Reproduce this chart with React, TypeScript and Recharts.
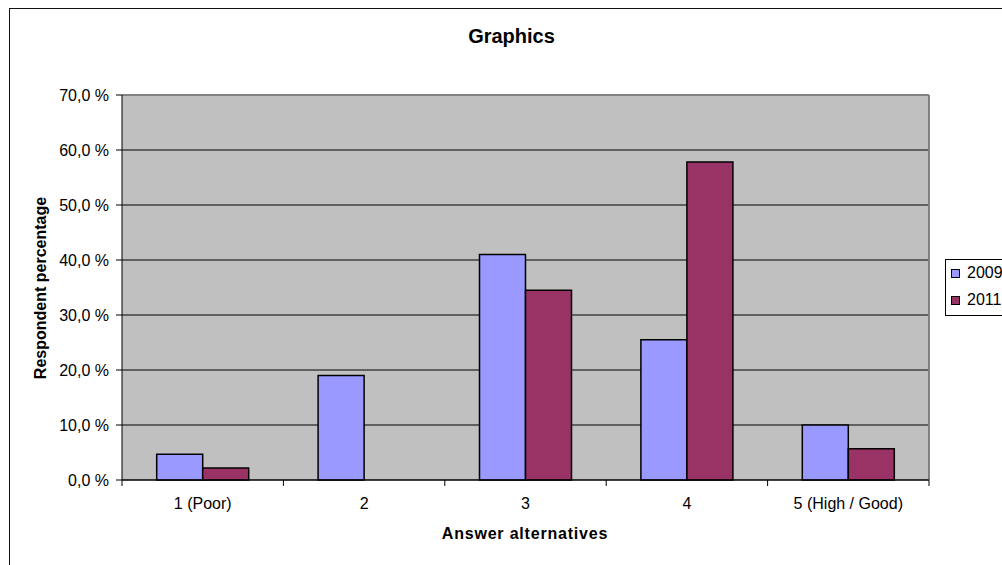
import React from 'react'
import { BarChart, Bar, XAxis, YAxis, CartesianGrid, Legend } from 'recharts'

const categories = ['1 (Poor)', '2', '3', '4', '5 (High / Good)']
const values2009 = [4.7, 19.0, 41.0, 25.5, 10.0]
const values2011 = [2.2, 0, 34.5, 57.8, 5.7]
const yTicks = [0, 10, 20, 30, 40, 50, 60, 70]

const data = categories.map((name, i) => ({
    name,
    y2009: values2009[i],
    y2011: values2011[i]
}))

const W = 1002
const H = 565
const margin = { top: 95, right: 73, left: 0, bottom: 0 }
const yAxisWidth = 122
const xAxisHeight = 85
const band = (W - yAxisWidth - margin.right) / categories.length

const font = '"Liberation Sans", Arial, sans-serif'

const fmt = (v: number) => `${v.toFixed(1).replace('.', ',')} %`

// label under each category + tick marks on the category boundaries
const XTick = (props: any) => {
    const { x, y, payload, index } = props
    const last = index === categories.length - 1
    return (
        <g>
            <line x1={x - band / 2} x2={x - band / 2} y1={y} y2={y + 6} stroke="#000" />
            {last && <line x1={x + band / 2} x2={x + band / 2} y1={y} y2={y + 6} stroke="#000" />}
            <text x={x} y={y + 29} textAnchor="middle" fontSize={16} fill="#000" fontFamily={font}>
                {payload.value}
            </text>
        </g>
    )
}

const renderLegend = (props: any) => {
    const items = props.payload || []
    return (
        <div style={{ border: '1px solid #000', background: '#fff', width: 90, height: 55, position: 'relative', fontFamily: font, fontSize: 16 }}>
            {items.map((item: any, i: number) => (
                <div key={item.value} style={{ position: 'absolute', left: 5, top: 4 + i * 27, height: 18, lineHeight: '18px', display: 'flex', alignItems: 'center' }}>
                    <span style={{ display: 'inline-block', width: 7, height: 7, background: item.color, border: '1px solid #000', marginRight: 7 }} />
                    <span>{item.value}</span>
                </div>
            ))}
        </div>
    )
}

const App = () => {
    return (
        <div style={{ position: 'fixed', left: 0, top: 0, width: W, height: H, overflow: 'hidden', background: '#fff', fontFamily: font }}>
            {/* outer chart border, runs off the right and bottom */}
            <div style={{ position: 'absolute', left: 9, top: 8, width: 1030, height: 620, border: '1px solid #111' }} />

            <div style={{ position: 'absolute', left: 0, top: 24, width: 1023, textAlign: 'center', fontSize: 20, fontWeight: 'bold', lineHeight: '24px' }}>
                Graphics
            </div>

            <BarChart
                width={W}
                height={H}
                data={data}
                margin={margin}
                barCategoryGap="21.5%"
                barGap={0}
            >
                <CartesianGrid vertical={false} stroke="#000" fill="#C0C0C0" fillOpacity={1} />
                <CartesianGrid
                    stroke="#808080"
                    strokeWidth={2}
                    horizontalCoordinatesGenerator={({ offset }: any) => [offset.top]}
                    verticalCoordinatesGenerator={({ offset }: any) => [offset.left + offset.width]}
                />
                <XAxis
                    dataKey="name"
                    height={xAxisHeight}
                    tickLine={false}
                    tickSize={0}
                    tickMargin={0}
                    axisLine={{ stroke: '#000' }}
                    tick={<XTick />}
                    interval={0}
                />
                <YAxis
                    width={yAxisWidth}
                    domain={[0, 70]}
                    ticks={yTicks}
                    tickFormatter={fmt}
                    tickSize={6}
                    tickMargin={7}
                    axisLine={{ stroke: '#000' }}
                    tickLine={{ stroke: '#000' }}
                    tick={{ fill: '#000', fontSize: 16, fontFamily: font }}
                />
                <Legend
                    layout="vertical"
                    align="center"
                    verticalAlign="middle"
                    content={renderLegend}
                    wrapperStyle={{ left: 945, top: 259, width: 90 }}
                />
                <Bar dataKey="y2009" name="2009" fill="#9999FF" stroke="#000" strokeWidth={1.5} isAnimationActive={false} />
                <Bar dataKey="y2011" name="2011" fill="#993366" stroke="#000" strokeWidth={1.5} isAnimationActive={false} />
            </BarChart>

            <div style={{ position: 'absolute', left: 375, top: 524, width: 300, textAlign: 'center', fontSize: 16, fontWeight: 'bold', lineHeight: '20px', letterSpacing: 0.8 }}>
                Answer alternatives
            </div>

            <div style={{ position: 'absolute', left: 40.5 - 150, top: 287.5 - 10, width: 300, height: 20, textAlign: 'center', fontSize: 16, fontWeight: 'bold', lineHeight: '20px', transform: 'rotate(-90deg)' }}>
                Respondent percentage
            </div>
        </div>
    )
}

export default App
